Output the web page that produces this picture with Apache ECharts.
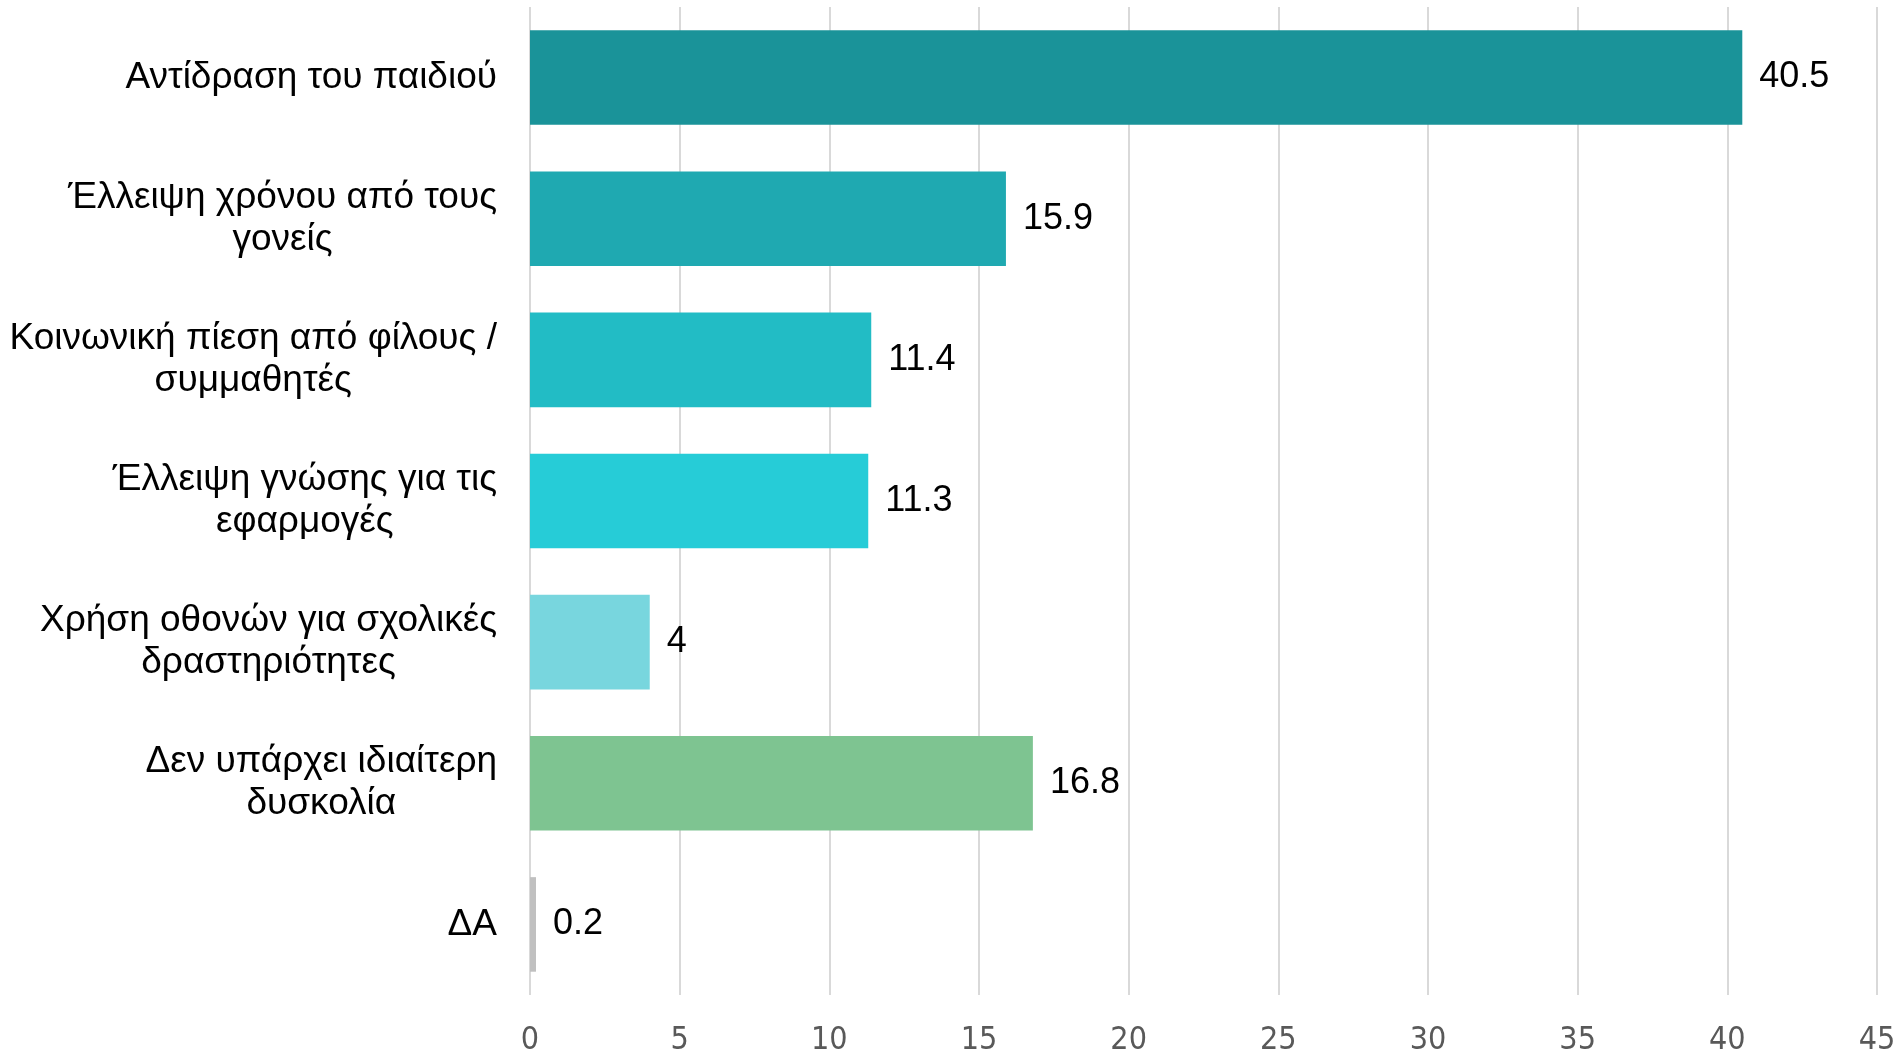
<!DOCTYPE html>
<html>
<head>
<meta charset="utf-8">
<script src="https://cdn.jsdelivr.net/npm/echarts@6/dist/echarts.min.js"></script>
<style>
html,body{margin:0;padding:0;background:#fff;}
#chart{width:1900px;height:1050px;}
</style>
</head>
<body>
<div id="chart"></div>
<script>
const categories = [
  "Αντίδραση του παιδιού",
  "Έλλειψη χρόνου από τους\nγονείς",
  "Κοινωνική πίεση από φίλους /\nσυμμαθητές",
  "Έλλειψη γνώσης για τις\nεφαρμογές",
  "Χρήση οθονών για σχολικές\nδραστηριότητες",
  "Δεν υπάρχει ιδιαίτερη\nδυσκολία",
  "ΔΑ"
];
const values = [40.5, 15.9, 11.4, 11.3, 4, 16.8, 0.2];
const barColors = ["#1A9399", "#1FA9B1", "#22BCC5", "#26CCD7", "#78D6DE", "#7EC491", "#C0C0C0"];
const xTicks = [0, 5, 10, 15, 20, 25, 30, 35, 40, 45];

const chart = echarts.init(document.getElementById('chart'));
chart.setOption({
  animation: false,
  grid: {left: 530, right: 23, top: 7, bottom: 55, containLabel: false, outerBoundsMode: 'none'},
  xAxis: {
    type: 'value',
    min: xTicks[0],
    max: xTicks[xTicks.length - 1],
    interval: 5,
    axisLine: {show: false},
    axisTick: {show: false},
    splitLine: {show: true, lineStyle: {color: '#D9D9D9', width: 2}},
    axisLabel: {
      color: '#595959',
      fontSize: 32,
      fontFamily: "'Liberation Sans Narrow', 'DejaVu Sans Condensed', sans-serif",
      margin: 30
    }
  },
  yAxis: {
    type: 'category',
    data: categories,
    inverse: true,
    axisLine: {show: false},
    axisTick: {show: false},
    splitLine: {show: false},
    axisLabel: {
      align: 'right',
      margin: 33,
      formatter: function (v) {
        return v.split('\n').map(function (l) { return '{c|' + l + '}'; }).join('\n');
      },
      rich: {
        c: {
          color: '#000000',
          fontSize: 37,
          lineHeight: 42,
          fontFamily: "'Liberation Sans', Arial, sans-serif",
          align: 'center'
        }
      }
    }
  },
  series: [{
    type: 'bar',
    barCategoryGap: '33%',
    data: values.map((v, i) => ({value: v, itemStyle: {color: barColors[i]}})),
    label: {
      show: true,
      position: 'right',
      distance: 17,
      color: '#000000',
      fontSize: 36,
      fontFamily: "'Liberation Sans', Arial, sans-serif"
    }
  }]
});
</script>
</body>
</html>
